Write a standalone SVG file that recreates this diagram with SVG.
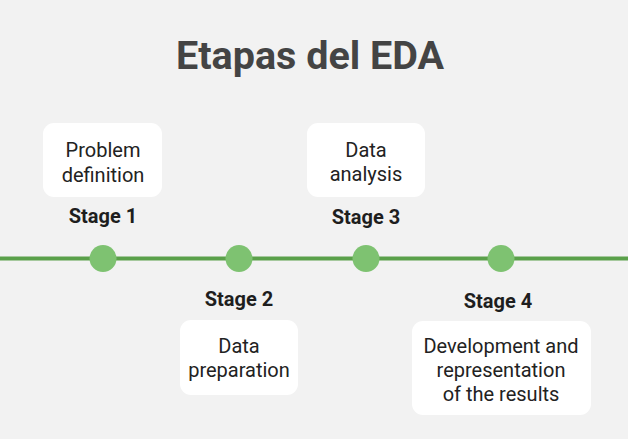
<svg xmlns="http://www.w3.org/2000/svg" width="628" height="439" viewBox="0 0 628 439">
<style>
.title{font-family:Roboto,"Liberation Sans",sans-serif;font-weight:700;font-size:39.5px;fill:#444;text-anchor:middle}
.stage{font-family:Roboto,"Liberation Sans",sans-serif;font-weight:700;font-size:20px;fill:#1e1e1e;text-anchor:middle}
.lbl{font-family:Roboto,"Liberation Sans",sans-serif;font-size:20px;fill:#222;text-anchor:middle}
.box{fill:#fff}
.dot{fill:#7ec271}
</style>
<rect width="628" height="439" fill="#f2f2f2"/>
<text class="title" x="310" y="69">Etapas del EDA</text>
<g id="connectors">
<line x1="0" y1="258.5" x2="628" y2="258.5" stroke="#5aa04a" stroke-width="4"/>
</g>
<g id="stage1">
<rect class="box" x="43" y="123" width="119" height="74" rx="11"/>
<text class="lbl" x="103" y="157">Problem</text>
<text class="lbl" x="103" y="182">definition</text>
<text class="stage" x="103" y="223">Stage 1</text>
<circle class="dot" cx="103" cy="258.5" r="13.5"/>
</g>
<g id="stage2">
<circle class="dot" cx="239" cy="258.5" r="13.5"/>
<text class="stage" x="239" y="306">Stage 2</text>
<rect class="box" x="180" y="320" width="118" height="75" rx="11"/>
<text class="lbl" x="239" y="353">Data</text>
<text class="lbl" x="239" y="377">preparation</text>
</g>
<g id="stage3">
<rect class="box" x="307" y="123" width="118" height="74" rx="11"/>
<text class="lbl" x="366" y="157">Data</text>
<text class="lbl" x="366" y="181">analysis</text>
<text class="stage" x="366" y="224">Stage 3</text>
<circle class="dot" cx="366" cy="258.5" r="13.5"/>
</g>
<g id="stage4">
<circle class="dot" cx="501" cy="258.5" r="13.5"/>
<text class="stage" x="498" y="308">Stage 4</text>
<rect class="box" x="412" y="321" width="179" height="94" rx="11"/>
<text class="lbl" x="501" y="353">Development and</text>
<text class="lbl" x="501" y="377">representation</text>
<text class="lbl" x="501" y="401">of the results</text>
</g>
</svg>
